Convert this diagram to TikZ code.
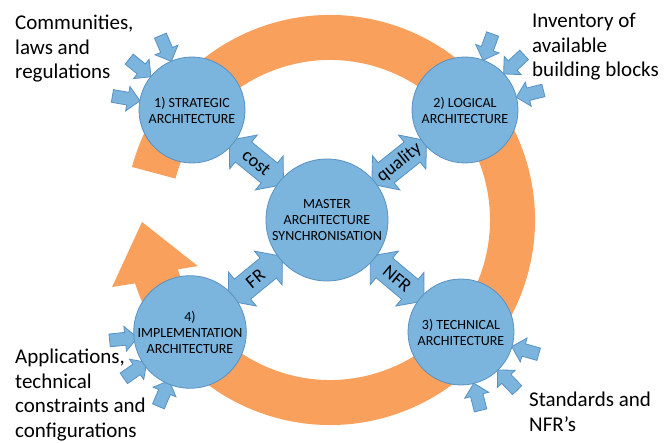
\documentclass[tikz,border=0pt]{standalone}
\usepackage{fontspec}
\setmainfont{Carlito}
\usetikzlibrary{shapes.arrows,calc}
\pgfdeclarelayer{background}
\pgfsetlayers{background,main}
\definecolor{ringorange}{RGB}{249,160,92}
\definecolor{bluefill}{RGB}{123,180,220}
\definecolor{blueline}{RGB}{88,145,195}
\begin{document}
\begin{tikzpicture}[x=1pt,y=1pt,
  archcircle/.style={circle, fill=bluefill, draw=blueline, line width=0.8pt, minimum size=106pt, inner sep=0pt, align=center, font=\fontsize{14}{16}\selectfont},
  syncarrow/.style={double arrow, fill=bluefill, draw=blueline, line width=0.8pt, minimum height=70pt, minimum width=0pt, inner xsep=0pt, inner ysep=12.5pt, double arrow head extend=9pt, double arrow tip angle=100},
  synclabel/.style={inner sep=0pt, font=\fontsize{18.5}{20}\selectfont},
  inarrow/.style={single arrow, fill=bluefill, draw=blueline, line width=0.8pt, minimum height=28pt, minimum width=0pt, inner xsep=0pt, inner ysep=6pt, single arrow head extend=6pt},
  sidelabel/.style={align=left, inner sep=0pt, anchor=north west, font=\fontsize{21}{24.5}\selectfont}]
\useasboundingbox (0,0) rectangle (670,443);
% circles
\node[archcircle] (c1) at (192,333) {1) STRATEGIC\\ARCHITECTURE};
\node[archcircle] (c2) at (465,333) {2) LOGICAL\\ARCHITECTURE};
\node[archcircle] (c3) at (461,111) {3) TECHNICAL\\ARCHITECTURE};
\node[archcircle] (c4) at (190,111) {4)\\IMPLEMENTATION\\ARCHITECTURE};
\node[archcircle, minimum size=122pt] (m) at (327,223) {MASTER\\ARCHITECTURE\\SYNCHRONISATION};
\begin{pgfonlayer}{background}
  % orange cycle
  \coordinate (rc) at (330,223);
  \fill[ringorange] ($(rc)+(165:205)$) arc[start angle=165, end angle=-162, radius=205]
     -- ($(rc)+(-162.9:228)$) -- ($(rc)+(-179.4:188)$) -- ($(rc)+(-160.8:140)$)
     -- ($(rc)+(-162:160)$) arc[start angle=-162, end angle=165, radius=160] -- cycle;
  % synchronisation arrows
  \node[syncarrow, rotate=-39.2] (a1) at ($(c1)!0.477!(m)$) {};
  \node[syncarrow, rotate=38.6] (a2) at ($(c2)!0.477!(m)$) {};
  \node[syncarrow, rotate=-39.9] (a3) at ($(c3)!0.477!(m)$) {};
  \node[syncarrow, rotate=39.3] (a4) at ($(c4)!0.477!(m)$) {};
  % input arrows
  \foreach \a [count=\i] in {113,141,170} \node[inarrow, rotate=\a+180] (in1\i) at ($(c1)+(\a:70)$) {};
  \foreach \a [count=\i] in {70,43,14} \node[inarrow, rotate=\a+180] (in2\i) at ($(c2)+(\a:70)$) {};
  \foreach \a [count=\i] in {-16,-46,-76} \node[inarrow, rotate=\a+180] (in3\i) at ($(c3)+(\a:70)$) {};
  \foreach \a [count=\i] in {186,215,247} \node[inarrow, rotate=\a+180] (in4\i) at ($(c4)+(\a:70)$) {};
\end{pgfonlayer}
% arrow labels
\node[synclabel, rotate=-39.2] (t1) at (a1) {cost};
\node[synclabel, rotate=38.6] (t2) at (a2) {quality};
\node[synclabel, rotate=-39.9] (t3) at (a3) {NFR};
\node[synclabel, rotate=39.3] (t4) at (a4) {FR};
% side labels
\node[sidelabel] (l1) at (15,428) {Communities,\\laws and\\regulations};
\node[sidelabel] (l2) at (532,430) {Inventory of\\available\\building blocks};
\node[sidelabel] (l3) at (15,94) {Applications,\\technical\\constraints and\\configurations};
\node[sidelabel] (l4) at (529,51) {Standards and\\NFR’s};
\end{tikzpicture}
\end{document}
